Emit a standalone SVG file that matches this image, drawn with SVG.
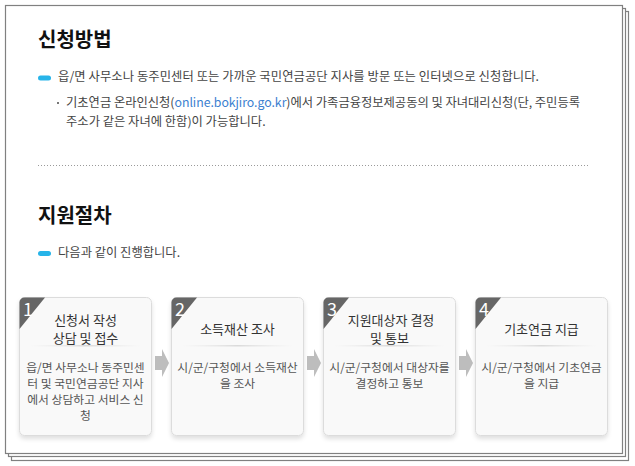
<svg xmlns="http://www.w3.org/2000/svg" width="635" height="466" viewBox="0 0 635 466">
<style>
text{font-family:"Malgun Gothic","Noto Sans CJK KR","Noto Sans",sans-serif}
.frame{fill:#fff;stroke:#808080;stroke-width:1.2}
.h{font-size:20px;font-weight:bold;fill:#111}
.t{font-size:12.3px;fill:#444}
.link{fill:#3b7fd0}
.pill{fill:#27b4e9}
.card{fill:#f9f9f9;stroke:#dcdcdc;stroke-width:1}
.badge{fill:#666}
.num{font-size:18px;fill:#fff}
.ct{font-size:13px;fill:#333;text-anchor:middle}
.cb{font-size:11.8px;fill:#555;text-anchor:middle}
.arrow{fill:#bdbdbd}
</style>
<defs>
<filter id="sh" x="-10%" y="-10%" width="120%" height="125%">
<feDropShadow dx="0" dy="3" stdDeviation="2" flood-color="#000" flood-opacity="0.12"/>
</filter>
<linearGradient id="div" x1="0" x2="1" y1="0" y2="0">
<stop offset="0" stop-color="#e6e6e6" stop-opacity="0"/>
<stop offset="0.5" stop-color="#dadada"/>
<stop offset="1" stop-color="#e6e6e6" stop-opacity="0"/>
</linearGradient>
</defs>
<rect class="frame" x="11.5" y="11.5" width="617" height="449"/>
<rect class="frame" x="8.5" y="8.5" width="617" height="448"/>
<rect class="frame" x="5.5" y="5.5" width="617" height="448"/>

<text class="h" x="38" y="47">신청방법</text>
<rect class="pill" x="38" y="75.5" width="13" height="5" rx="2.5"/>
<text class="t" x="58" y="81" textLength="481" lengthAdjust="spacing">읍/면 사무소나 동주민센터 또는 가까운 국민연금공단 지사를 방문 또는 인터넷으로 신청합니다.</text>
<rect x="57" y="102" width="2" height="2" fill="#777"/>
<text class="t" x="66" y="107" textLength="514" lengthAdjust="spacing">기초연금 온라인신청(<tspan class="link">online.bokjiro.go.kr</tspan>)에서 가족금융정보제공동의 및 자녀대리신청(단, 주민등록</text>
<text class="t" x="66" y="126">주소가 같은 자녀에 한함)이 가능합니다.</text>
<line x1="38" y1="165.5" x2="588" y2="165.5" stroke="#9a9a9a" stroke-width="1" stroke-dasharray="1 2"/>

<text class="h" x="38" y="223">지원절차</text>
<rect class="pill" x="38" y="251" width="13" height="5" rx="2.5"/>
<text class="t" x="58" y="257">다음과 같이 진행합니다.</text>

<g id="connectors">
<path class="arrow" d="M155,356H162V349L169,363L162,377V370H155Z"/>
<path class="arrow" d="M307,356H314V349L321,363L314,377V370H307Z"/>
<path class="arrow" d="M459,356H466V349L473,363L466,377V370H459Z"/>
</g>

<g id="step1">
<rect class="card" x="19.5" y="297.5" width="132" height="138" rx="5" filter="url(#sh)"/>
<path class="badge" d="M19.5,302.5A5,5 0 0 1 24.5,297.5H45L19.5,329Z"/>
<text class="num" x="23" y="316">1</text>
<text class="ct" x="85.5" y="325">신청서 작성</text>
<text class="ct" x="85.5" y="343">상담 및 접수</text>
<rect x="30" y="345" width="111" height="1.5" fill="url(#div)"/>
<text class="cb" x="85.5" y="372">읍/면 사무소나 동주민센</text>
<text class="cb" x="85.5" y="388">터 및 국민연금공단 지사</text>
<text class="cb" x="85.5" y="404">에서 상담하고 서비스 신</text>
<text class="cb" x="85.5" y="420">청</text>
</g>

<g id="step2">
<rect class="card" x="171.5" y="297.5" width="132" height="138" rx="5" filter="url(#sh)"/>
<path class="badge" d="M171.5,302.5A5,5 0 0 1 176.5,297.5H197L171.5,329Z"/>
<text class="num" x="175" y="316">2</text>
<text class="ct" x="237.5" y="334">소득재산 조사</text>
<rect x="182" y="345" width="111" height="1.5" fill="url(#div)"/>
<text class="cb" x="237.5" y="372">시/군/구청에서 소득재산</text>
<text class="cb" x="237.5" y="388">을 조사</text>
</g>

<g id="step3">
<rect class="card" x="323.5" y="297.5" width="132" height="138" rx="5" filter="url(#sh)"/>
<path class="badge" d="M323.5,302.5A5,5 0 0 1 328.5,297.5H349L323.5,329Z"/>
<text class="num" x="327" y="316">3</text>
<text class="ct" x="391" y="325">지원대상자 결정</text>
<text class="ct" x="389.5" y="343">및 통보</text>
<rect x="334" y="345" width="111" height="1.5" fill="url(#div)"/>
<text class="cb" x="389.5" y="372">시/군/구청에서 대상자를</text>
<text class="cb" x="389.5" y="388">결정하고 통보</text>
</g>

<g id="step4">
<rect class="card" x="475.5" y="297.5" width="132" height="138" rx="5" filter="url(#sh)"/>
<path class="badge" d="M475.5,302.5A5,5 0 0 1 480.5,297.5H501L475.5,329Z"/>
<text class="num" x="479" y="316">4</text>
<text class="ct" x="541.5" y="334">기초연금 지급</text>
<rect x="486" y="345" width="111" height="1.5" fill="url(#div)"/>
<text class="cb" x="541.5" y="372">시/군/구청에서 기초연금</text>
<text class="cb" x="541.5" y="388">을 지급</text>
</g>
</svg>
